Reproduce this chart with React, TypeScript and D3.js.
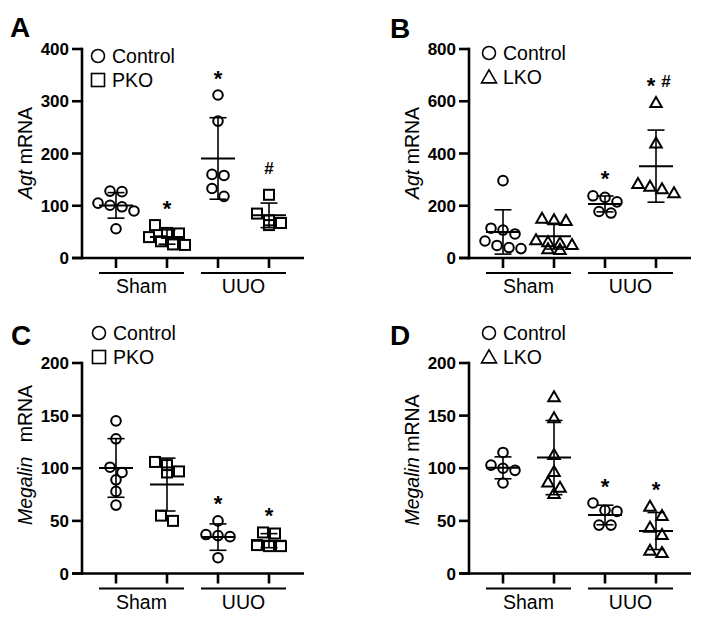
import React from 'react';
import * as d3 from 'd3';

// group / legend labels
const groupLabels = ['Sham', 'UUO'];
const controlName = 'Control';

// Panel A: Agt mRNA, PKO
const agtPkoCtrlSham = [128, 127, 105, 101, 98, 90, 56];
const agtPkoKoSham = [63, 48, 47, 40, 32, 26, 25];
const agtPkoCtrlUuo = [312, 262, 160, 158, 133, 118];
const agtPkoKoUuo = [121, 85, 72, 67, 63];
const agtPkoMarks = ['', '*', '*', '#'];
const agtPkoTicks = [0, 100, 200, 300, 400];

// Panel B: Agt mRNA, LKO
const agtLkoCtrlSham = [296, 114, 107, 92, 65, 48, 40, 36];
const agtLkoKoSham = [152, 146, 144, 70, 62, 58, 52, 35, 33];
const agtLkoCtrlUuo = [238, 232, 215, 178, 172];
const agtLkoKoUuo = [595, 440, 285, 275, 265, 250];
const agtLkoMarks = ['', '', '*', '*#'];
const agtLkoTicks = [0, 200, 400, 600, 800];

// Panel C: Megalin mRNA, PKO
const megPkoCtrlSham = [145, 128, 101, 96, 89, 78, 65];
const megPkoKoSham = [106, 103, 97, 96, 55, 50];
const megPkoCtrlUuo = [50, 37, 36, 35, 15];
const megPkoKoUuo = [39, 38, 27, 26, 26];
const megPkoMarks = ['', '', '*', '*'];

// Panel D: Megalin mRNA, LKO
const megLkoCtrlSham = [115, 103, 100, 98, 86];
const megLkoKoSham = [168, 148, 113, 97, 87, 82, 76];
const megLkoCtrlUuo = [67, 60, 59, 46, 46];
const megLkoKoUuo = [64, 55, 44, 37, 22, 20];
const megLkoMarks = ['', '', '*', '*'];
const megalinTicks = [0, 50, 100, 150, 200];

const FONT = '"Liberation Sans", Arial, Helvetica, sans-serif';

type Shape = 'circle' | 'square' | 'triangle';

interface PanelProps {
  letter: string;
  letterX: number;
  letterY: number;
  axisX: number;
  top: number;
  bottom: number;
  gene: string;
  geneGap: number;
  titleY: number;
  koName: string;
  koShape: Shape;
  legendX: number;
  legendY: number;
  columns: number[][];
  marks: string[];
  ticks: number[];
}

function Marker({ shape, x, y, size, sw }: { shape: Shape; x: number; y: number; size: number; sw: number }) {
  if (shape === 'circle') {
    return <circle cx={x} cy={y} r={size / 2} fill="none" stroke="#000" strokeWidth={sw} />;
  }
  if (shape === 'square') {
    return <rect x={x - size / 2} y={y - size / 2} width={size} height={size} fill="none" stroke="#000" strokeWidth={sw} />;
  }
  const w = size * 1.15;
  const h = size;
  return (
    <path
      d={`M${x},${y - h * 0.55} L${x + w / 2},${y + h * 0.45} L${x - w / 2},${y + h * 0.45} Z`}
      fill="none"
      stroke="#000"
      strokeWidth={sw}
      strokeLinejoin="miter"
    />
  );
}

// spread points that sit at about the same height into centred rows
function layoutPoints(values: number[], y: d3.ScaleLinear<number, number>, spacing = 12, thresh = 10, maxRow = 4) {
  const sorted = [...values].sort((a, b) => b - a);
  const rows: { v: number; py: number }[][] = [];
  sorted.forEach(v => {
    const py = y(v);
    const last = rows[rows.length - 1];
    if (last && last.length < maxRow && Math.abs(py - last[0].py) < thresh) last.push({ v, py });
    else rows.push([{ v, py }]);
  });
  return rows.flatMap(row => row.map((p, i) => ({ ...p, dx: (i - (row.length - 1) / 2) * spacing })));
}

const Panel: React.FC<PanelProps> = p => {
  const y = d3.scaleLinear().domain([0, p.ticks[p.ticks.length - 1]]).range([p.bottom, p.top]);
  const x = d3.scalePoint<number>().domain([0, 1, 2, 3]).range([p.axisX + 34, p.axisX + 187]);
  const shapes: Shape[] = ['circle', p.koShape, 'circle', p.koShape];
  const axisW = 2.6;

  return (
    <g fontFamily={FONT}>
      <text x={p.letterX} y={p.letterY} fontSize={28} fontWeight="bold">{p.letter}</text>

      {/* y axis */}
      <line x1={p.axisX} x2={p.axisX} y1={p.top - 1.3} y2={p.bottom + 1.3} stroke="#000" strokeWidth={axisW} />
      {p.ticks.map(t => (
        <g key={t}>
          <line x1={p.axisX - 10} x2={p.axisX} y1={y(t)} y2={y(t)} stroke="#000" strokeWidth={axisW} />
          <text x={p.axisX - 13} y={y(t) + 6} textAnchor="end" fontSize={17} fontWeight="bold">{t}</text>
        </g>
      ))}
      <text
        transform={`translate(${p.axisX - 50},${p.titleY}) rotate(-90)`}
        textAnchor="middle"
        fontSize={19.5}
      >
        <tspan fontStyle="italic">{p.gene}</tspan>
        <tspan dx={p.geneGap}> mRNA</tspan>
      </text>

      {/* x axis */}
      <line x1={p.axisX - 10} x2={p.axisX + 222} y1={p.bottom} y2={p.bottom} stroke="#000" strokeWidth={axisW} />
      {x.domain().map(i => (
        <line key={i} x1={x(i)} x2={x(i)} y1={p.bottom} y2={p.bottom + 10} stroke="#000" strokeWidth={axisW} />
      ))}
      {groupLabels.map((g, gi) => {
        const cx = ((x(gi * 2) as number) + (x(gi * 2 + 1) as number)) / 2;
        return (
          <g key={g}>
            <line x1={cx - 42.5} x2={cx + 42.5} y1={p.bottom + 15} y2={p.bottom + 15} stroke="#000" strokeWidth={2} />
            <text x={cx} y={p.bottom + 35} textAnchor="middle" fontSize={19.5}>{g}</text>
          </g>
        );
      })}

      {/* legend */}
      <Marker shape="circle" x={p.legendX} y={p.legendY} size={13} sw={1.6} />
      <text x={p.legendX + 14} y={p.legendY + 7} fontSize={19.5}>{controlName}</text>
      <Marker shape={p.koShape} x={p.legendX} y={p.legendY + 24} size={13} sw={1.6} />
      <text x={p.legendX + 14} y={p.legendY + 31} fontSize={19.5}>{p.koName}</text>

      {/* columns */}
      {p.columns.map((vals, i) => {
        const gx = x(i) as number;
        const mean = d3.mean(vals) as number;
        const sd = d3.deviation(vals) as number;
        const pts = layoutPoints(vals, y);
        const topY = Math.min(y(d3.max(vals) as number), y(mean + sd));
        const mark = p.marks[i];
        return (
          <g key={i}>
            {pts.map((pt, j) => (
              <Marker key={j} shape={shapes[i]} x={gx + pt.dx} y={pt.py} size={shapes[i] === 'circle' ? 9.6 : 10} sw={2} />
            ))}
            <line x1={gx} x2={gx} y1={y(mean - sd)} y2={y(mean + sd)} stroke="#000" strokeWidth={1.6} />
            <line x1={gx - 8.5} x2={gx + 8.5} y1={y(mean - sd)} y2={y(mean - sd)} stroke="#000" strokeWidth={1.6} />
            <line x1={gx - 8.5} x2={gx + 8.5} y1={y(mean + sd)} y2={y(mean + sd)} stroke="#000" strokeWidth={1.6} />
            <line x1={gx - 17} x2={gx + 17} y1={y(mean)} y2={y(mean)} stroke="#000" strokeWidth={2} />
            {mark === '*' && (
              <text x={gx} y={topY - 22 + 12.6} textAnchor="middle" fontSize={22} fontWeight="bold">*</text>
            )}
            {mark === '#' && (
              <text x={gx} y={topY - 27 + 6} textAnchor="middle" fontSize={17} fontWeight="bold">#</text>
            )}
            {mark === '*#' && (
              <g>
                <text x={gx - 5} y={topY - 22 + 12.6} textAnchor="middle" fontSize={22} fontWeight="bold">*</text>
                <text x={gx + 10} y={topY - 22 + 6} textAnchor="middle" fontSize={17} fontWeight="bold">#</text>
              </g>
            )}
          </g>
        );
      })}
    </g>
  );
};

export default function App() {
  return (
    <svg
      width={708}
      height={625}
      style={{ position: 'absolute', left: 0, top: 0, background: '#fff' }}
    >
      <rect width={708} height={625} fill="#fff" />
      <Panel
        letter="A" letterX={10} letterY={37}
        axisX={82} top={49} bottom={258}
        gene="Agt" geneGap={0} titleY={153}
        koName="PKO" koShape="square" legendX={98} legendY={56}
        columns={[agtPkoCtrlSham, agtPkoKoSham, agtPkoCtrlUuo, agtPkoKoUuo]}
        marks={agtPkoMarks} ticks={agtPkoTicks}
      />
      <Panel
        letter="B" letterX={390} letterY={38}
        axisX={469} top={49} bottom={258}
        gene="Agt" geneGap={0} titleY={153}
        koName="LKO" koShape="triangle" legendX={489} legendY={53}
        columns={[agtLkoCtrlSham, agtLkoKoSham, agtLkoCtrlUuo, agtLkoKoUuo]}
        marks={agtLkoMarks} ticks={agtLkoTicks}
      />
      <Panel
        letter="C" letterX={11} letterY={345}
        axisX={82} top={363} bottom={573.5}
        gene="Megalin" geneGap={9} titleY={455}
        koName="PKO" koShape="square" legendX={99} legendY={333}
        columns={[megPkoCtrlSham, megPkoKoSham, megPkoCtrlUuo, megPkoKoUuo]}
        marks={megPkoMarks} ticks={megalinTicks}
      />
      <Panel
        letter="D" letterX={390} letterY={345}
        axisX={469} top={363} bottom={573.5}
        gene="Megalin" geneGap={0} titleY={460}
        koName="LKO" koShape="triangle" legendX={489} legendY={333}
        columns={[megLkoCtrlSham, megLkoKoSham, megLkoCtrlUuo, megLkoKoUuo]}
        marks={megLkoMarks} ticks={megalinTicks}
      />
    </svg>
  );
}
